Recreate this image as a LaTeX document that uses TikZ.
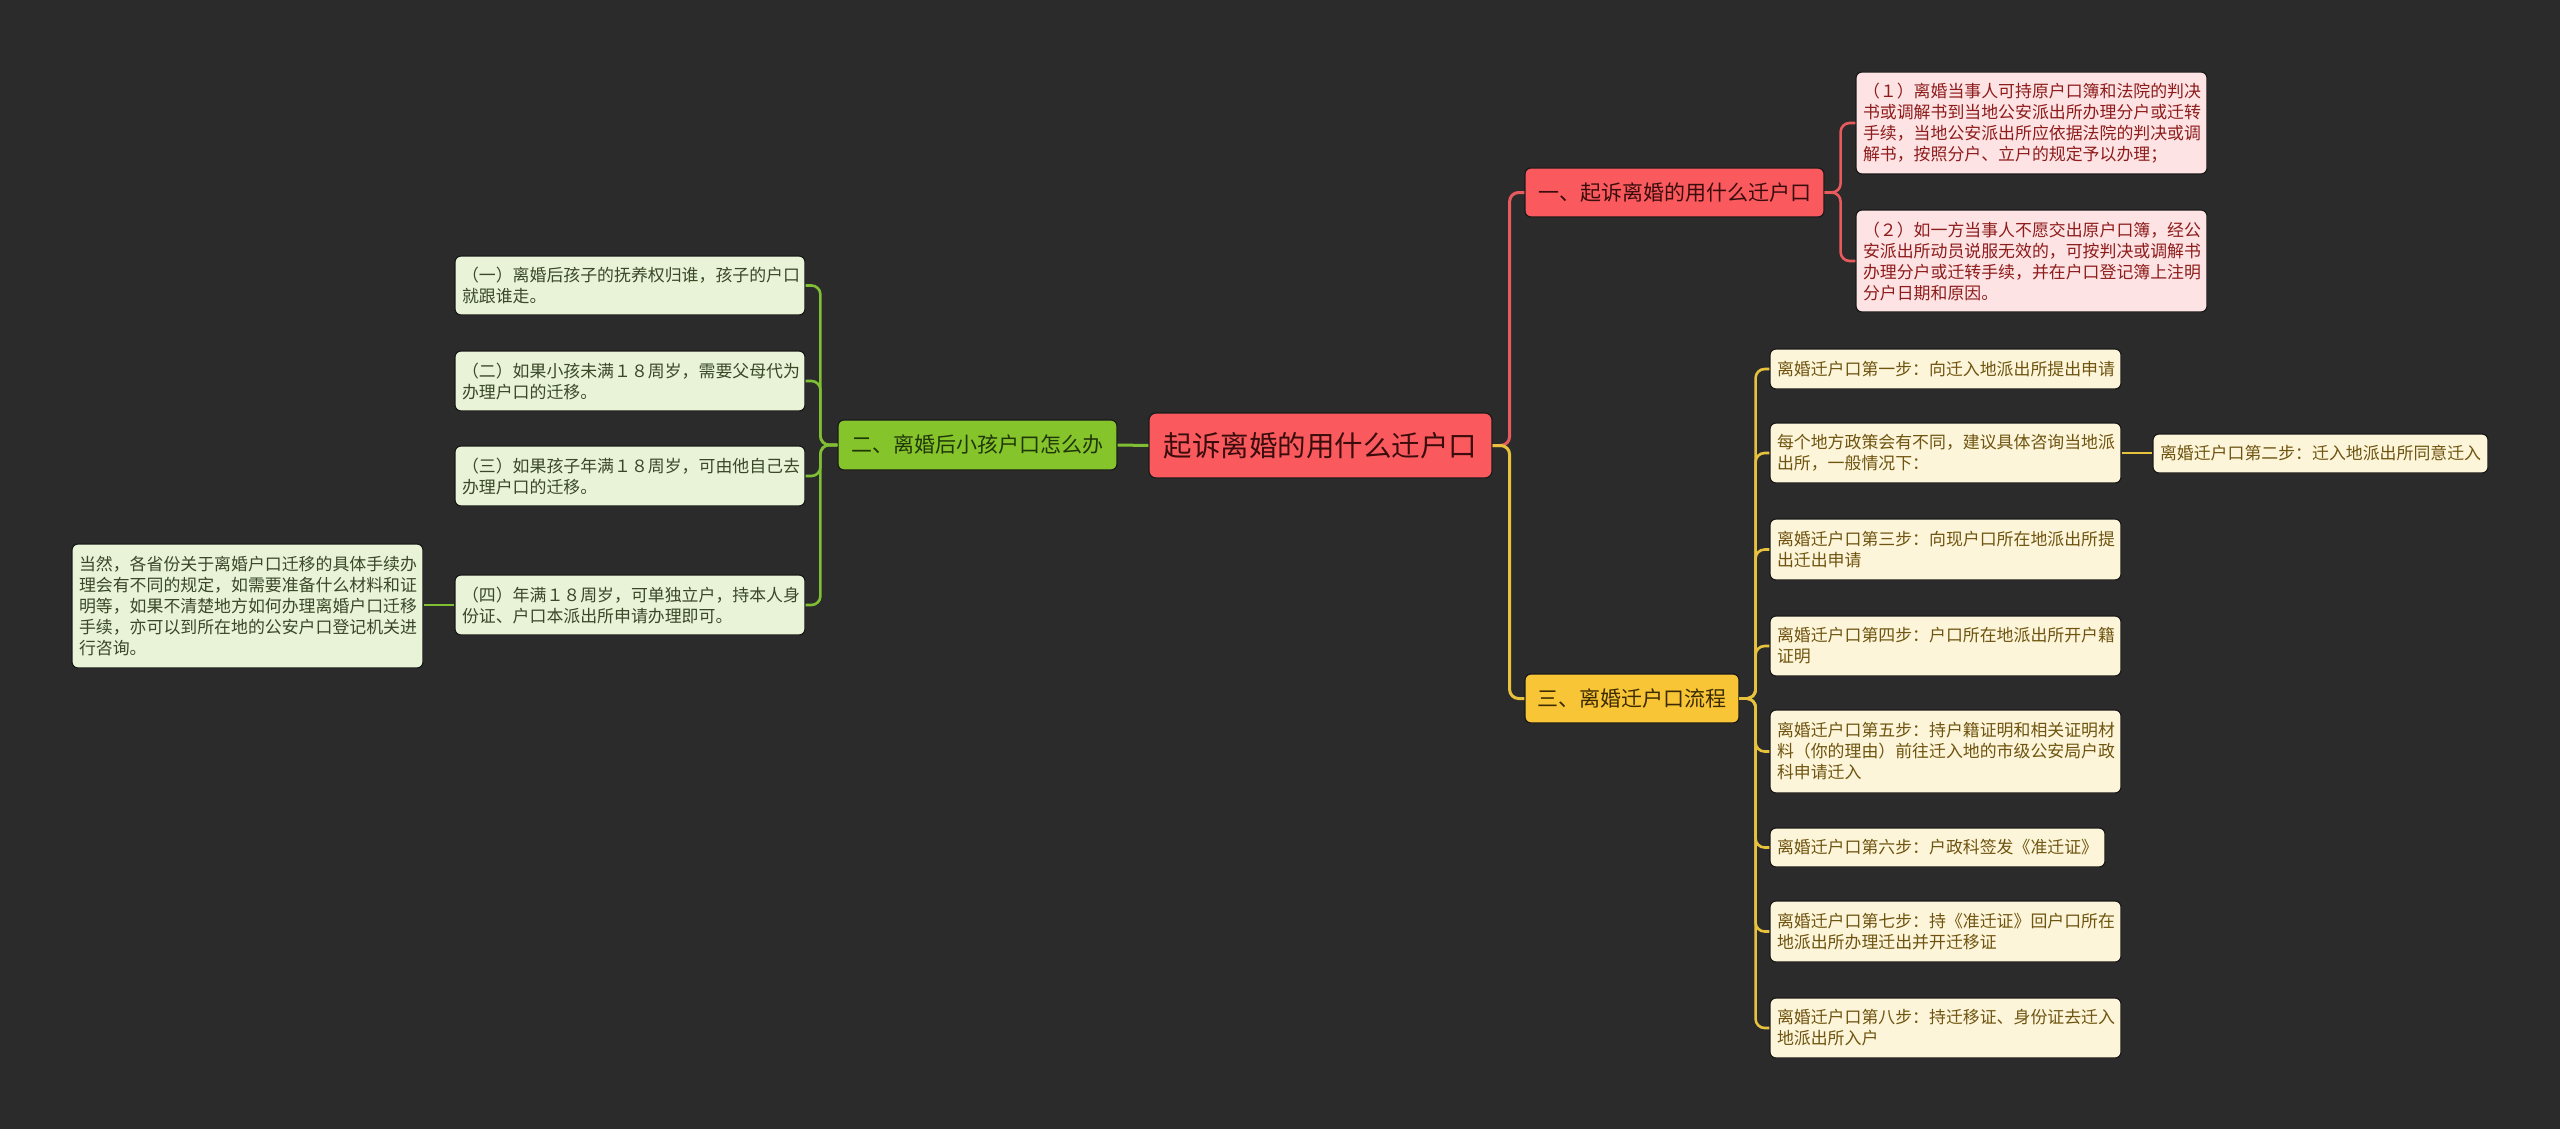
\documentclass[tikz,border=0pt]{standalone}
\usepackage{fontspec}
\setmainfont{Noto Sans CJK SC}
\definecolor{bg}{HTML}{2B2B2B}
\definecolor{edge}{HTML}{1A1A1A}
\definecolor{redfill}{HTML}{FA5A5E}
\definecolor{redtext}{HTML}{3A0C0C}
\definecolor{redline}{HTML}{E85A5C}
\definecolor{pinkfill}{HTML}{FDE3E3}
\definecolor{pinktext}{HTML}{8E1C1C}
\definecolor{greenfill}{HTML}{86C42C}
\definecolor{greentext}{HTML}{1F3608}
\definecolor{greenline}{HTML}{80BE34}
\definecolor{lgreenfill}{HTML}{E9F3D7}
\definecolor{lgreentext}{HTML}{3A4828}
\definecolor{yelfill}{HTML}{F8C537}
\definecolor{yeltext}{HTML}{3C2B00}
\definecolor{yelline}{HTML}{E8C23C}
\definecolor{lyelfill}{HTML}{FDF5D9}
\definecolor{lyeltext}{HTML}{6E5410}
\tikzset{
  box/.style={rounded corners=6pt, draw=edge, line width=1.2pt, inner xsep=7pt, inner ysep=0pt, align=left, font=\fontsize{16.9}{21}\selectfont},
  rleaf/.style={box, fill=pinkfill, text=pinktext},
  gleaf/.style={box, fill=lgreenfill, text=lgreentext},
  yleaf/.style={box, fill=lyelfill, text=lyeltext},
  branch/.style={rounded corners=6pt, draw=edge, line width=1.2pt, inner sep=0pt, align=center, font=\fontsize{21}{26}\selectfont},
  conn/.style={line width=2.6pt, rounded corners=9pt},
}
\begin{document}
\begin{tikzpicture}[x=1pt,y=-1pt]
\fill[bg] (0,0) rectangle (2560,1129);
\useasboundingbox (0,0) rectangle (2560,1129);
% root
\node[rounded corners=7pt, draw=edge, line width=1.2pt, fill=redfill, text=redtext, minimum width=343pt, minimum height=65pt, inner sep=0pt, font=\fontsize{28.5}{34}\selectfont] (root) at (1320.5,445.5) {起诉离婚的用什么迁户口};
% branches
\node[branch, fill=redfill, text=redtext, minimum width=299pt, minimum height=49pt] (b1) at (1674.5,192.5) {一、起诉离婚的用什么迁户口};
\node[branch, fill=greenfill, text=greentext, minimum width=279pt, minimum height=50pt] (b2) at (977.5,445) {二、离婚后小孩户口怎么办};
\node[branch, fill=yelfill, text=yeltext, minimum width=214pt, minimum height=49pt] (b3) at (1632,698.5) {三、离婚迁户口流程};
% branch 1 leaves
\node[rleaf, text width=337pt, minimum height=102pt] (r1) at (2031.5,123) {（１）离婚当事人可持原户口簿和法院的判决\\书或调解书到当地公安派出所办理分户或迁转\\手续，当地公安派出所应依据法院的判决或调\\解书，按照分户、立户的规定予以办理；};
\node[rleaf, text width=337pt, minimum height=102pt] (r2) at (2031.5,261) {（２）如一方当事人不愿交出原户口簿，经公\\安派出所动员说服无效的，可按判决或调解书\\办理分户或迁转手续，并在户口登记簿上注明\\分户日期和原因。};
% branch 2 leaves
\node[gleaf, text width=336pt, minimum height=59pt] (l1) at (630,285.5) {（一）离婚后孩子的抚养权归谁，孩子的户口\\就跟谁走。};
\node[gleaf, text width=336pt, minimum height=60pt] (l2) at (630,381) {（二）如果小孩未满１８周岁，需要父母代为\\办理户口的迁移。};
\node[gleaf, text width=336pt, minimum height=60pt] (l3) at (630,476) {（三）如果孩子年满１８周岁，可由他自己去\\办理户口的迁移。};
\node[gleaf, text width=336pt, minimum height=60pt] (l4) at (630,605) {（四）年满１８周岁，可单独立户，持本人身\\份证、户口本派出所申请办理即可。};
\node[gleaf, text width=337pt, minimum height=124pt] (l4c) at (247.5,606) {当然，各省份关于离婚户口迁移的具体手续办\\理会有不同的规定，如需要准备什么材料和证\\明等，如果不清楚地方如何办理离婚户口迁移\\手续，亦可以到所在地的公安户口登记机关进\\行咨询。};
% branch 3 leaves
\node[yleaf, text width=337pt, minimum height=40pt] (s1) at (1945.5,369) {离婚迁户口第一步：向迁入地派出所提出申请};
\node[yleaf, text width=337pt, minimum height=60pt] (s2) at (1945.5,453) {每个地方政策会有不同，建议具体咨询当地派\\出所，一般情况下：};
\node[yleaf, text width=321pt, minimum height=39pt] (s2c) at (2320.5,453.5) {离婚迁户口第二步：迁入地派出所同意迁入};
\node[yleaf, text width=337pt, minimum height=61pt] (s3) at (1945.5,549.5) {离婚迁户口第三步：向现户口所在地派出所提\\出迁出申请};
\node[yleaf, text width=337pt, minimum height=60pt] (s4) at (1945.5,646) {离婚迁户口第四步：户口所在地派出所开户籍\\证明};
\node[yleaf, text width=337pt, minimum height=83pt] (s5) at (1945.5,751.5) {离婚迁户口第五步：持户籍证明和相关证明材\\料（你的理由）前往迁入地的市级公安局户政\\科申请迁入};
\node[yleaf, text width=321pt, minimum height=39pt] (s6) at (1937.5,847.5) {离婚迁户口第六步：户政科签发《准迁证》};
\node[yleaf, text width=337pt, minimum height=61pt] (s7) at (1945.5,931.5) {离婚迁户口第七步：持《准迁证》回户口所在\\地派出所办理迁出并开迁移证};
\node[yleaf, text width=337pt, minimum height=60pt] (s8) at (1945.5,1028) {离婚迁户口第八步：持迁移证、身份证去迁入\\地派出所入户};
% connectors
\draw[conn, line width=3pt, greenline] (root.west) -- (b2.east);
\draw[conn, line width=3pt, redline] (root.east) -- ++(17,0) |- (b1.west);
\draw[conn, line width=3pt, yelline] (root.east) -- ++(17,0) |- (b3.west);
\foreach \n in {r1,r2} \draw[conn, redline] (b1.east) -- ++(16,0) |- (\n.west);
\foreach \n in {l1,l2,l3,l4} \draw[conn, greenline] (b2.west) -- ++(-17,0) |- (\n.east);
\draw[conn, greenline] (l4.west) -- (l4.west -| l4c.east);
\foreach \n in {s1,s2,s3,s4,s5,s6,s7,s8} \draw[conn, yelline] (b3.east) -- ++(16,0) |- (\n.west);
\draw[conn, yelline] (s2.east) -- (s2.east -| s2c.west);
\end{tikzpicture}
\end{document}
